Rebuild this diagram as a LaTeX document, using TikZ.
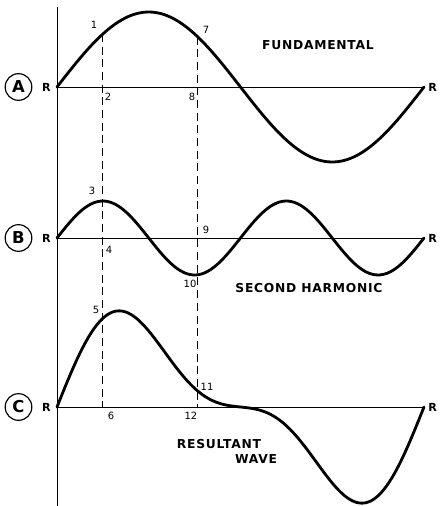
\documentclass[tikz,border=0pt]{standalone}
\usepackage{fontspec}
\setmainfont{DejaVu Sans}
\usetikzlibrary{positioning}

\begin{document}
\begin{tikzpicture}[x=0.03cm, y=-0.03cm, every node/.style={font=\bfseries\fontsize{9.5}{10}\selectfont},
	wave/.style={line width=2.4pt, line join=round, line cap=round},
	axis/.style={line width=0.8pt},
	guide/.style={line width=0.9pt, dash pattern=on 0.24cm off 0.14cm},
	lab/.style={font=\fontsize{8.5}{9}\selectfont, inner sep=1pt},
	tag/.style={draw, circle, line width=1pt, minimum size=0.8cm, inner sep=0pt, font=\bfseries\fontsize{14}{15}\selectfont},
	title/.style={font=\bfseries\fontsize{10.5}{11}\selectfont\addfontfeatures{LetterSpace=6}, inner sep=1pt}]
	\useasboundingbox (0,0) rectangle (441,506);
	% axes
	\draw[axis] (57,7) -- (57,506);
	\foreach \y/\n in {87/A,238/B,407/C} {
		\draw[axis] (57,\y) -- (424,\y);
		\node[anchor=east, inner sep=1pt] (rl\n) at (52,\y) {R};
		\node[anchor=west, inner sep=1pt] (rr\n) at (427,\y) {R};
		\node[tag] (t\n) at (18.5,\y) {\n};
	}
	% the three waves
	\draw[wave] plot[domain=0:360, samples=120] ({57+1.0194*\x}, {87-75*sin(\x)});
	\draw[wave] plot[domain=0:360, samples=120] ({57+1.0194*\x}, {238-37*sin(2*\x)});
	\draw[wave] plot[domain=0:360, samples=160] ({57+1.0194*\x}, {407-76*sin(\x)-35*sin(2*\x)});
	% points on the two guides
	\coordinate (p1) at ({57+1.0194*45}, {87-75*sin(45)});
	\coordinate (p6) at ({57+1.0194*45}, 407);
	\coordinate (p7) at ({57+1.0194*138}, {87-75*sin(138)});
	\coordinate (p12) at ({57+1.0194*138}, 407);
	\draw[guide] (p1) -- (p6);
	\draw[guide] (p7) -- (p12);
	\node[lab] (n1) at (94,25) {1};
	\node[lab] (n2) at (108,97) {2};
	\node[lab] (n3) at (92,191) {3};
	\node[lab] (n4) at (109,250) {4};
	\node[lab] (n5) at (96,310) {5};
	\node[lab] (n6) at (111,416) {6};
	\node[lab] (n7) at (206,30) {7};
	\node[lab] (n8) at (192,97) {8};
	\node[lab] (n9) at (206,230) {9};
	\node[lab] (n10) at (190,284) {10};
	\node[lab] (n11) at (207,387) {11};
	\node[lab] (n12) at (191,416) {12};
	\node[title] (fund) at (318,45) {FUNDAMENTAL};
	\node[title] (harm) at (309,288) {SECOND HARMONIC};
	\node[title] (res) at (219,444) {RESULTANT};
	\node[title] (wv) at (256,459) {WAVE};
\end{tikzpicture}
\end{document}
